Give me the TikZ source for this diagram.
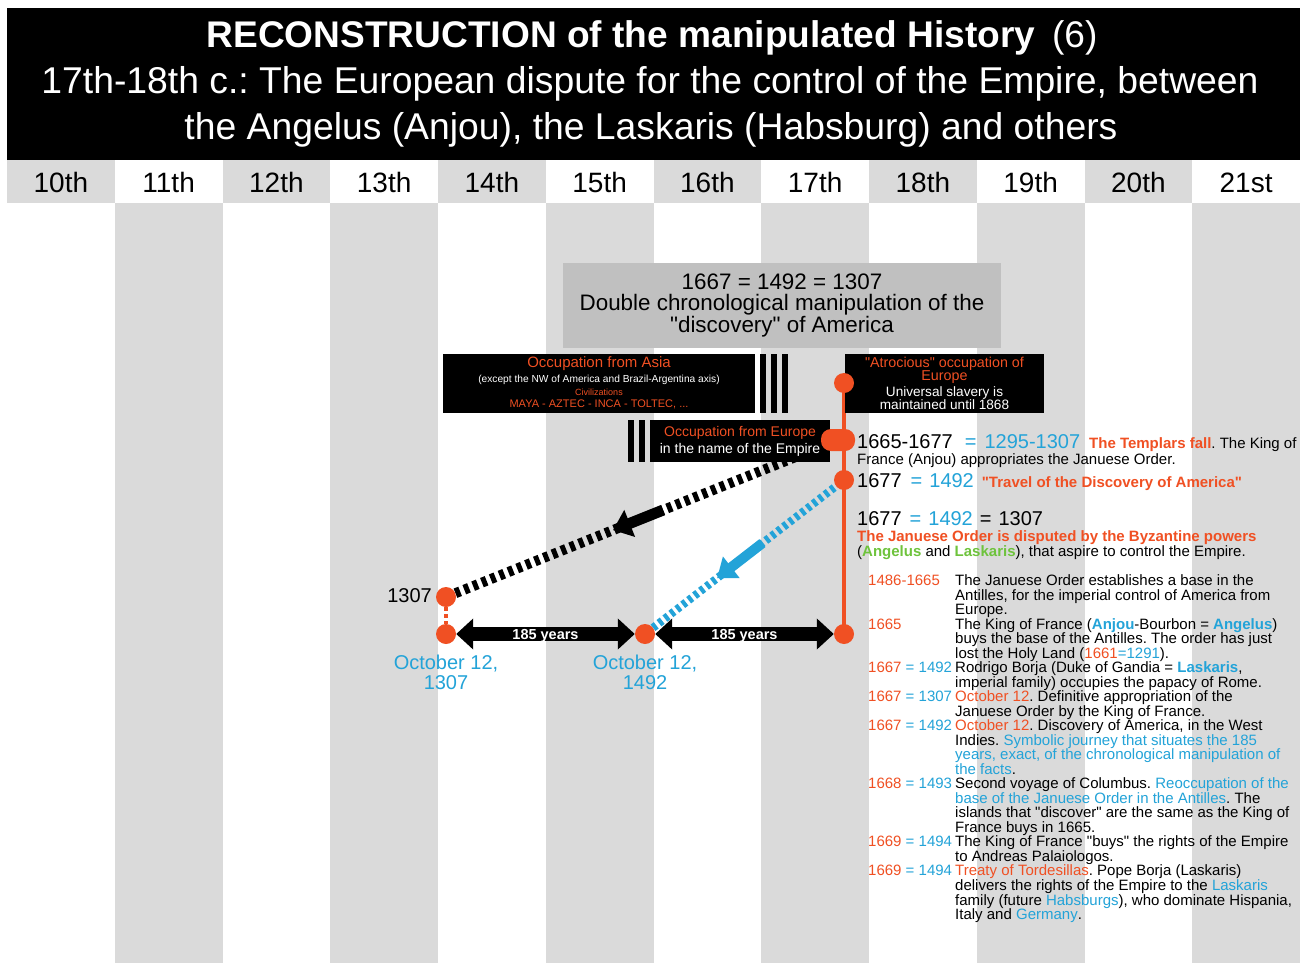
\documentclass[tikz,border=0pt]{standalone}
\usepackage{fontspec}
\setmainfont{Liberation Sans}[Ligatures=TeXOff]
\usetikzlibrary{arrows.meta,calc}
\definecolor{ored}{RGB}{240,80,35}
\definecolor{oblue}{RGB}{35,163,216}
\definecolor{ogreen}{RGB}{110,195,60}
\definecolor{stripe}{RGB}{218,218,218}
\definecolor{boxgray}{RGB}{192,192,192}
\newcommand\fs[2]{\fontsize{#1}{#2}\selectfont}
\newcommand\dA[1]{\makebox[87pt][l]{\color{ored}#1}}
\newcommand\dB[2]{\makebox[87pt][l]{\color{ored}#1 \color{oblue}= #2}}
\newcommand\bl[1]{\textbf{\color{oblue}#1}}
\newcommand\cb[1]{{\color{oblue}#1}}
\newcommand\co[1]{{\color{ored}#1}}
\pgfdeclarelayer{stripes}
\pgfdeclarelayer{links}
\pgfsetlayers{stripes,links,main}
\frenchspacing
\begin{document}
\begin{tikzpicture}[x=1pt,y=-1pt,
  dot/.style={circle,fill=ored,minimum size=20pt,inner sep=0pt},
  pillbox/.style={rectangle,rounded corners=10pt,fill=ored,minimum width=34pt,minimum height=22pt,inner sep=0pt},
  blk/.style={fill=black,inner sep=0pt,anchor=north west},
  wtxt/.style={text=white,inner sep=0pt,anchor=base},
  otxt/.style={text=ored,inner sep=0pt,anchor=base},
  cent/.style={font=\fs{28}{30},inner sep=0pt,anchor=base},
  rtxt/.style={inner sep=0pt,anchor=base west},
  fat/.style={line width=14pt,{Triangle[length=17pt,width=30pt]}-{Triangle[length=17pt,width=30pt]}},
  yr/.style={text=white,font=\fs{14.5}{15}\bfseries,inner sep=0pt,yshift=-2pt}
]
\useasboundingbox (0,0) rectangle (1309,963);
\begin{pgfonlayer}{stripes}
\fill[white] (0,0) rectangle (1309,963);
\foreach \i in {0,...,11}{
  \pgfmathsetmacro\xa{7+\i*107.75}
  \pgfmathsetmacro\xb{7+(\i+1)*107.75}
  \ifodd\i
    \fill[stripe] (\xa,203) rectangle (\xb,963);
  \else
    \fill[stripe] (\xa,160) rectangle (\xb,203);
  \fi
}
\end{pgfonlayer}

% header
\node[blk,minimum width=1293pt,minimum height=152pt] (hdr) at (7,8) {};
\node[wtxt,font=\fs{37.1}{40}] (t1) at (652,48) {\textbf{RECONSTRUCTION of the manipulated History}\hspace{17pt}(6)};
\node[wtxt,font=\fs{37.3}{40}] (t2) at (650,93.3) {17th-18th c.: The European dispute for the control of the Empire, between};
\node[wtxt,font=\fs{37.3}{40}] (t3) at (651,139.3) {the Angelus (Anjou), the Laskaris (Habsburg) and others};

% centuries
\foreach \i/\t in {0/10th,1/11th,2/12th,3/13th,4/14th,5/15th,6/16th,7/17th,8/18th,9/19th,10/20th,11/21st}
  \node[cent] (c\i) at ({7+(\i+0.5)*107.75},192) {\t};

% gray box
\node[fill=boxgray,minimum width=438pt,minimum height=85pt,inner sep=0pt,align=center,font=\fs{22.4}{21.5}] (gbox) at (782,305.5)
  {1667 = 1492 = 1307\\Double chronological manipulation of the\\"discovery" of America};

% box A
\node[blk,minimum width=312pt,minimum height=59pt] (boxA) at (443,354) {};
\node[otxt,font=\fs{15}{15}] (a1) at (599,367.4) {Occupation from Asia};
\node[wtxt,font=\fs{10.2}{11}] (a2) at (599,382.5) {(except the NW of America and Brazil-Argentina axis)};
\node[otxt,font=\fs{9}{9}] (a3) at (599,395.2) {Civilizations};
\node[otxt,font=\fs{11}{11}] (a4) at (599,407) {MAYA - AZTEC - INCA - TOLTEC, ...};
\node[blk,minimum width=6pt,minimum height=59pt] (ba1) at (760,354) {};
\node[blk,minimum width=6pt,minimum height=59pt] (ba2) at (771,354) {};
\node[blk,minimum width=6pt,minimum height=59pt] (ba3) at (782,354) {};

% box B
\node[blk,minimum width=199pt,minimum height=59pt] (boxB) at (845,354) {};
\node[otxt,font=\fs{14.3}{14}] (b1) at (944.5,367) {"Atrocious" occupation of};
\node[otxt,font=\fs{14.3}{14}] (b2) at (944.5,380) {Europe};
\node[wtxt,font=\fs{13.6}{14}] (b3) at (944.5,396) {Universal slavery is};
\node[wtxt,font=\fs{13.6}{14}] (b4) at (944.5,409) {maintained until 1868};

% box C
\node[blk,minimum width=180pt,minimum height=42pt] (boxC) at (650,420) {};
\node[otxt,font=\fs{14}{14}] (cc1) at (740,436) {Occupation from Europe};
\node[wtxt,font=\fs{14}{14}] (cc2) at (740,453) {in the name of the Empire};
\node[blk,minimum width=6pt,minimum height=42pt] (bc1) at (628,420) {};
\node[blk,minimum width=6pt,minimum height=42pt] (bc2) at (639,420) {};

% dots
\node[dot] (top) at (844,383) {};
\node[pillbox] (pill) at (838,440) {};
\node[dot] (d1677) at (844,480) {};
\node[dot] (d1667) at (844,634) {};
\node[dot] (d1307) at (446,597) {};
\node[dot] (o1307) at (446,634) {};
\node[dot] (o1492) at (645,634) {};

\begin{pgfonlayer}{links}
\draw[ored,line width=4pt] (top.center) -- (d1667.center);
\draw[ored,line width=4pt,dash pattern=on 4pt off 3pt] (d1307) -- (o1307);
\draw[black,line width=10pt,dash pattern=on 5pt off 4.5pt] (d1307) -- (pill);
\draw[black,line width=11pt,-{Triangle[length=18pt,width=28pt]}] ($(d1307)!0.554!(pill)$) -- ($(d1307)!0.426!(pill)$);
\draw[oblue,line width=8pt,dash pattern=on 4pt off 3.5pt] (o1492) -- (d1677);
\draw[oblue,line width=10pt,-{Triangle[length=18pt,width=26pt]}] ($(o1492)!0.59!(d1677)$) -- ($(o1492)!0.362!(d1677)$);
\end{pgfonlayer}

\draw[fat] (o1307) -- node[yr] (y1) {185 years} (o1492);
\draw[fat] (o1492) -- node[yr] (y2) {185 years} (d1667);

\node[anchor=east,font=\fs{20}{20},inner sep=0pt] (l1307) at (432,596) {1307};
\node[anchor=north,align=center,font=\fs{20}{20},text=oblue,inner sep=0pt] (oct1) at (446,654.6) {October 12,\\1307};
\node[anchor=north,align=center,font=\fs{20}{20},text=oblue,inner sep=0pt] (oct2) at (645,654.6) {October 12,\\1492};

% right texts
\node[rtxt,font=\fs{20}{20}] (r1) at (857,448) {1665-1677\hspace{12pt}\cb{=\hspace{8pt}1295-1307}\hspace{9pt}{\fs{15}{15}\textbf{\color{ored}The Templars fall}. The King of}};
\node[rtxt,font=\fs{15}{15}] (r2) at (857,464.4) {France (Anjou) appropriates the Januese Order.};
\node[rtxt,font=\fs{20}{20}] (r3) at (857,487) {1677\hspace{9pt}\cb{=\hspace{7pt}1492}\hspace{8pt}{\fs{15}{15}\textbf{\color{ored}"Travel of the Discovery of America"}}};
\node[rtxt,font=\fs{20}{20}] (r4) at (857,525) {1677\hspace{8pt}\cb{=\hspace{7pt}1492}\hspace{7pt}=\hspace{7pt}1307};
\node[rtxt,font=\fs{15}{15}\bfseries,text=ored] (r5) at (857,541.4) {The Januese Order is disputed by the Byzantine powers};
\node[rtxt,font=\fs{15}{15}] (r6) at (857,556.4) {(\textbf{\color{ogreen}Angelus} and \textbf{\color{ogreen}Laskaris}), that aspire to control the Empire.};

\node[anchor=north west,inner sep=0pt,align=left,font=\fs{15}{14.52}] (tbl) at (868,574.5) {%
\dA{1486-1665}The Januese Order establishes a base in the\\
\dA{}Antilles, for the imperial control of America from\\
\dA{}Europe.\\
\dA{1665}The King of France (\bl{Anjou}-Bourbon = \bl{Angelus})\\
\dA{}buys the base of the Antilles. The order has just\\
\dA{}lost the Holy Land (\co{1661}\cb{=1291}).\\
\dB{1667}{1492}Rodrigo Borja (Duke of Gandia = \bl{Laskaris},\\
\dA{}imperial family) occupies the papacy of Rome.\\
\dB{1667}{1307}\co{October 12}. Definitive appropriation of the\\
\dA{}Januese Order by the King of France.\\
\dB{1667}{1492}\co{October 12}. Discovery of America, in the West\\
\dA{}Indies. \cb{Symbolic journey that situates the 185}\\
\dA{}\cb{years, exact, of the chronological manipulation of}\\
\dA{}\cb{the facts}.\\
\dB{1668}{1493}Second voyage of Columbus. \cb{Reoccupation of the}\\
\dA{}\cb{base of the Januese Order in the Antilles}. The\\
\dA{}islands that "discover" are the same as the King of\\
\dA{}France buys in 1665.\\
\dB{1669}{1494}The King of France "buys" the rights of the Empire\\
\dA{}to Andreas Palaiologos.\\
\dB{1669}{1494}\co{Treaty of Tordesillas}. Pope Borja (Laskaris)\\
\dA{}delivers the rights of the Empire to the \cb{Laskaris}\\
\dA{}family (future \cb{Habsburgs}), who dominate Hispania,\\
\dA{}Italy and \cb{Germany}.};
\end{tikzpicture}
\end{document}
